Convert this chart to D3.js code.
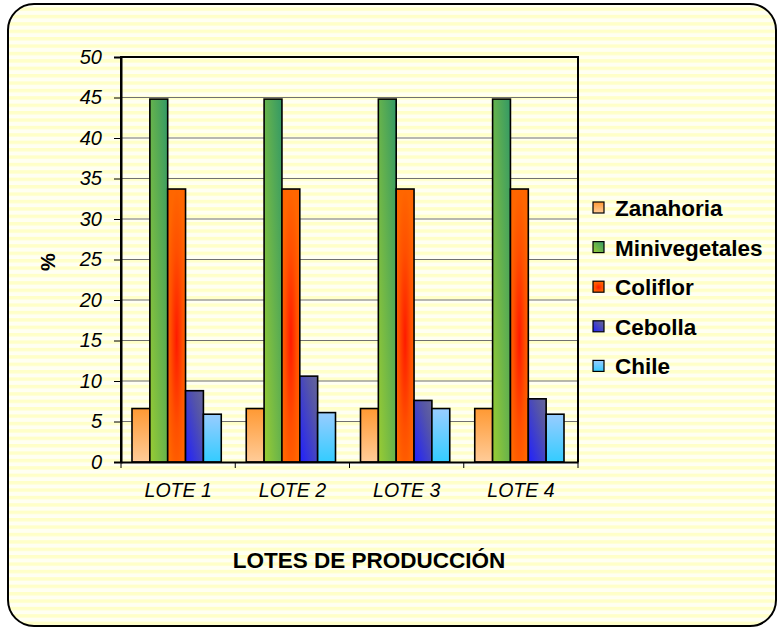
<!DOCTYPE html>
<html><head><meta charset="utf-8">
<script src="https://cdn.jsdelivr.net/npm/d3@7"></script>
<style>body{margin:0;background:#fff}svg{display:block;font-family:"Liberation Sans",Arial,sans-serif}</style>
</head><body><svg id="c" width="783" height="627"></svg>
<script>
const categories = ["LOTE 1","LOTE 2","LOTE 3","LOTE 4"];
const seriesNames = ["Zanahoria","Minivegetales","Coliflor","Cebolla","Chile"];
const zanahoria = [6.6,6.6,6.6,6.6];
const minivegetales = [44.8,44.8,44.8,44.8];
const coliflor = [33.7,33.7,33.7,33.7];
const cebolla = [8.8,10.6,7.6,7.8];
const chile = [5.9,6.1,6.6,5.9];
const yTicks = [0,5,10,15,20,25,30,35,40,45,50];
const seriesValues = [zanahoria,minivegetales,coliflor,cebolla,chile];

const svg = d3.select("#c");
const defs = svg.append("defs");
const pat = defs.append("pattern").attr("id","stripes").attr("patternUnits","userSpaceOnUse")
  .attr("width",10).attr("height",7.4);
pat.append("rect").attr("width",10).attr("height",7.4).attr("fill","#fffff2");
pat.append("rect").attr("y",0).attr("width",10).attr("height",3.4).attr("fill","#ffffc8");

function lin(id,x1,y1,x2,y2,stops){
  const g=defs.append("linearGradient").attr("id",id).attr("x1",x1).attr("y1",y1).attr("x2",x2).attr("y2",y2);
  stops.forEach(s=>g.append("stop").attr("offset",s[0]).attr("stop-color",s[1]));
}
lin("g0",0,0,0,1,[[0,"#ff9933"],[1,"#ffcc99"]]);
lin("g1",0,1,1,0,[[0,"#99cc33"],[1,"#339966"]]);
const rg=defs.append("radialGradient").attr("id","g2").attr("cx",0.5).attr("cy",0.55).attr("r",0.55);
rg.append("stop").attr("offset",0).attr("stop-color","#ff1a00");
rg.append("stop").attr("offset",0.6).attr("stop-color","#ff5000");
rg.append("stop").attr("offset",1).attr("stop-color","#ff6600");
lin("g3",0,1,1,0,[[0,"#2020ff"],[0.7,"#5555a8"],[1,"#666699"]]);
lin("g4",0,0,0,1,[[0,"#99ccff"],[1,"#33ccff"]]);
const fills = ["url(#g0)","url(#g1)","url(#g2)","url(#g3)","url(#g4)"];

svg.append("rect").attr("x",8).attr("y",4).attr("width",768).attr("height",622).attr("rx",26)
  .attr("fill","url(#stripes)").attr("stroke","#000").attr("stroke-width",2);

const L=121,T=57,R=578,B=462;
const x = d3.scaleBand().domain(categories).range([L,R]).paddingInner(0).paddingOuter(0);
const y = d3.scaleLinear().domain([0,50]).range([B,T]);
const xs = d3.scaleBand().domain(seriesNames).range([0,x.bandwidth()]).paddingInner(0).paddingOuter(0.7);

svg.append("g").selectAll("line").data(yTicks.filter(t=>t>0&&t<50)).join("line")
  .attr("x1",L).attr("x2",R).attr("y1",d=>y(d)).attr("y2",d=>y(d))
  .attr("stroke","#707070").attr("stroke-width",1.2);

const gcat = svg.append("g").selectAll("g").data(categories).join("g")
  .attr("transform",d=>`translate(${x(d)-1.5},0)`);
gcat.selectAll("rect").data((c,i)=>seriesNames.map((s,j)=>({s,j,v:seriesValues[j][i]}))).join("rect")
  .attr("x",d=>xs(d.s)).attr("width",xs.bandwidth())
  .attr("y",d=>y(d.v)).attr("height",d=>B-y(d.v))
  .attr("fill",d=>fills[d.j]).attr("stroke","#000").attr("stroke-width",1.6);

svg.append("path").attr("d",`M${L},${B}V${T}H${R}V${B}`).attr("fill","none").attr("stroke","#000").attr("stroke-width",2);

const ya = svg.append("g").attr("transform",`translate(${L},0)`)
  .call(d3.axisLeft(y).tickValues(yTicks).tickSize(7).tickPadding(12));
ya.select(".domain").attr("stroke","#000").attr("stroke-width",2);
ya.selectAll(".tick line").attr("stroke","#000").attr("stroke-width",1);
ya.selectAll("text").attr("font-size",20).attr("font-style","italic").attr("fill","#000")
  .attr("font-family","Liberation Sans, Arial, sans-serif");

const xa = svg.append("g").attr("transform",`translate(0,${B})`)
  .call(d3.axisBottom(x).tickSize(0).tickPadding(21));
xa.select(".domain").attr("stroke","#000").attr("stroke-width",2);
xa.selectAll("text").attr("font-size",19.5).attr("font-style","italic").attr("fill","#000")
  .attr("font-family","Liberation Sans, Arial, sans-serif");
svg.append("g").selectAll("line").data(categories.concat(["end"])).join("line")
  .attr("x1",(d,i)=>L+i*x.bandwidth()).attr("x2",(d,i)=>L+i*x.bandwidth())
  .attr("y1",B).attr("y2",B+6).attr("stroke","#000").attr("stroke-width",1);

svg.append("text").attr("x",369).attr("y",568).attr("text-anchor","middle")
  .attr("font-size",22.5).attr("font-weight","bold").text("LOTES DE PRODUCCIÓN");
svg.append("text").attr("transform","translate(55,262) rotate(-90)").attr("text-anchor","middle")
  .attr("font-size",20).attr("font-weight","bold").text("%");

const lg = svg.append("g").selectAll("g").data(seriesNames).join("g")
  .attr("transform",(d,i)=>`translate(593,${202+i*39.6})`);
lg.append("rect").attr("width",11).attr("height",11).attr("fill",(d,i)=>fills[i])
  .attr("stroke","#000").attr("stroke-width",1.2);
lg.append("text").attr("x",22).attr("y",14).attr("font-size",22.5).attr("font-weight","bold").text(d=>d);
</script></body></html>
